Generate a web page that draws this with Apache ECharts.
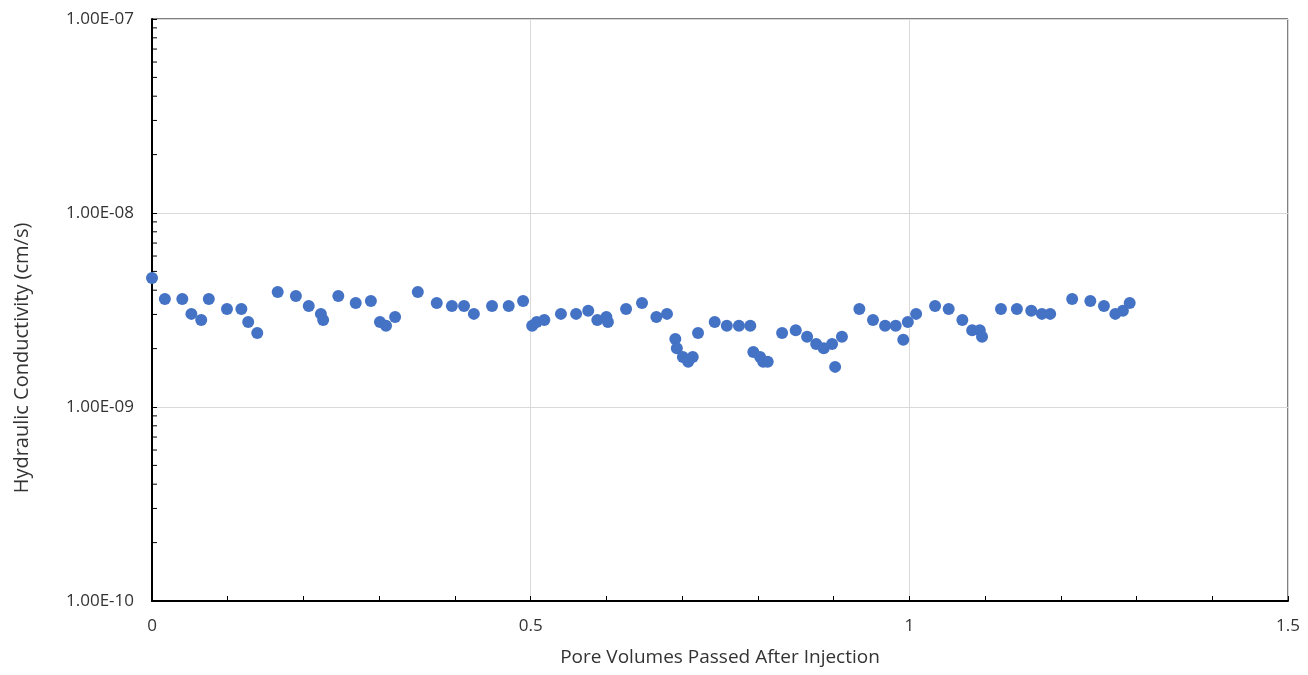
<!DOCTYPE html>
<html>
<head>
<meta charset="utf-8">
<script src="https://cdn.jsdelivr.net/npm/echarts@6/dist/echarts.min.js"></script>
<style>html,body{margin:0;padding:0;background:#fff}#c{width:1308px;height:675px}</style>
</head>
<body>
<div id="c"></div>
<script>
const poreVolumes = [0,0.017,0.040,0.052,0.065,0.075,0.099,0.118,0.127,0.139,0.166,0.190,0.207,0.223,0.226,0.246,0.269,0.289,0.301,0.309,0.321,0.351,0.376,0.396,0.412,0.425,0.449,0.471,0.490,0.502,0.508,0.518,0.540,0.560,0.576,0.588,0.600,0.602,0.626,0.647,0.666,0.680,0.691,0.693,0.701,0.708,0.714,0.721,0.743,0.759,0.775,0.790,0.794,0.803,0.807,0.813,0.832,0.850,0.865,0.877,0.887,0.898,0.902,0.911,0.934,0.952,0.968,0.982,0.992,0.998,1.009,1.034,1.052,1.070,1.083,1.093,1.096,1.121,1.142,1.161,1.175,1.186,1.215,1.239,1.257,1.272,1.282,1.291];
const conductivity = [4.62e-9,3.60e-9,3.60e-9,3.02e-9,2.81e-9,3.60e-9,3.20e-9,3.20e-9,2.74e-9,2.41e-9,3.92e-9,3.73e-9,3.32e-9,3.02e-9,2.81e-9,3.73e-9,3.44e-9,3.52e-9,2.74e-9,2.62e-9,2.91e-9,3.92e-9,3.44e-9,3.32e-9,3.32e-9,3.02e-9,3.32e-9,3.32e-9,3.52e-9,2.62e-9,2.74e-9,2.81e-9,3.02e-9,3.02e-9,3.13e-9,2.81e-9,2.91e-9,2.74e-9,3.20e-9,3.44e-9,2.91e-9,3.02e-9,2.24e-9,2.01e-9,1.81e-9,1.71e-9,1.81e-9,2.41e-9,2.74e-9,2.62e-9,2.62e-9,2.62e-9,1.92e-9,1.81e-9,1.71e-9,1.71e-9,2.41e-9,2.49e-9,2.30e-9,2.11e-9,2.01e-9,2.11e-9,1.61e-9,2.30e-9,3.20e-9,2.81e-9,2.62e-9,2.62e-9,2.22e-9,2.74e-9,3.02e-9,3.32e-9,3.20e-9,2.81e-9,2.49e-9,2.49e-9,2.30e-9,3.20e-9,3.20e-9,3.13e-9,3.02e-9,3.02e-9,3.60e-9,3.52e-9,3.32e-9,3.02e-9,3.13e-9,3.44e-9];
const xTickLabels = ['0','0.5','1','1.5'];
const yDecades = [1e-10,1e-9,1e-8,1e-7];
const yMinorMultipliers = [2,3,4,5,6,7,8,9];

const yMinorTicks = [];
for (let d = 0; d < yDecades.length - 1; d++) {
  for (const m of yMinorMultipliers) yMinorTicks.push([0, m * yDecades[d]]);
}

function fmtSci(v) {
  const e = Math.round(Math.log10(v));
  const mant = v / Math.pow(10, e);
  const sign = e < 0 ? '-' : '+';
  const ae = Math.abs(e);
  return mant.toFixed(2) + 'E' + sign + (ae < 10 ? '0' + ae : ae);
}

const font = '"Open Sans", "Noto Sans", sans-serif';
const txt = '#333333';
const chart = echarts.init(document.getElementById('c'));
chart.setOption({
  animation: false,
  grid: { left: 152, right: 20, top: 19, bottom: 74, show: true, borderColor: '#000', borderWidth: 1, backgroundColor: 'transparent' },
  xAxis: {
    type: 'value', min: 0, max: 1.5, interval: 0.5,
    name: 'Pore Volumes Passed After Injection', nameLocation: 'middle', nameGap: 47,
    nameTextStyle: { fontFamily: font, fontSize: 19, color: txt },
    axisLine: { lineStyle: { color: '#000', width: 2 } },
    axisTick: { show: true, inside: true, length: 5, lineStyle: { color: '#000', width: 1 } },
    minorTick: { show: true, splitNumber: 5, length: 5, lineStyle: { color: '#000', width: 1 } },
    axisLabel: { fontFamily: font, fontSize: 17, color: txt, margin: 17,
      formatter: v => { const i = Math.round(v / 0.5); return xTickLabels[i] !== undefined ? xTickLabels[i] : ''; } },
    splitLine: { show: true, lineStyle: { color: '#d9d9d9', width: 1 } }
  },
  yAxis: {
    type: 'log', logBase: 10, min: yDecades[0], max: yDecades[yDecades.length - 1],
    name: 'Hydraulic Conductivity (cm/s)', nameLocation: 'middle', nameGap: 120,
    nameTextStyle: { fontFamily: font, fontSize: 20, color: txt, padding: [0, 96, 0, 0] },
    axisLine: { show: true, lineStyle: { color: '#000', width: 2 } },
    axisTick: { show: true, inside: true, length: 5, lineStyle: { color: '#000' } },
    axisLabel: { fontFamily: font, fontSize: 17, color: txt, margin: 18, formatter: v => fmtSci(v) },
    splitLine: { show: true, lineStyle: { color: '#d9d9d9', width: 1 } }
  },
  series: [
    {
      type: 'scatter',
      data: poreVolumes.map((x, i) => [x, conductivity[i]]),
      symbol: 'circle', symbolSize: 12,
      itemStyle: { color: '#4472C4', opacity: 1 },
      z: 5
    },
    {
      type: 'custom',
      data: yMinorTicks,
      clip: false,
      silent: true,
      renderItem: (params, api) => {
        const p = api.coord([api.value(0), api.value(1)]);
        return { type: 'line', shape: { x1: p[0], y1: p[1], x2: p[0] + 5, y2: p[1] }, style: { stroke: '#000', lineWidth: 1 } };
      },
      z: 4
    }
  ]
});
</script>
</body>
</html>
